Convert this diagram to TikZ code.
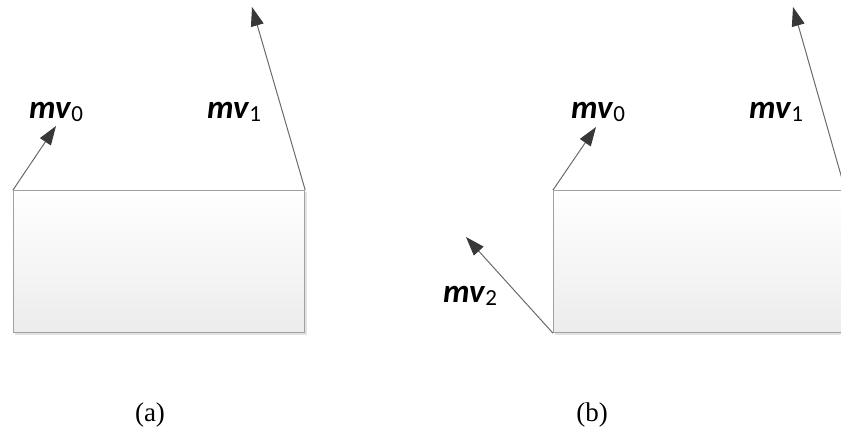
\documentclass[tikz,border=0pt]{standalone}
\usepackage{fontspec}
\setmainfont{Liberation Serif}
\newfontfamily\lblfont{Carlito}
\usetikzlibrary{arrows.meta}
\definecolor{boxline}{HTML}{A0A0A0}
\definecolor{boxbot}{HTML}{ECECEC}
\definecolor{arrline}{HTML}{6A6A6A}
\definecolor{arrhead}{HTML}{383838}
\definecolor{shadowc}{HTML}{E2E2E2}
\tikzset{
  blockbox/.style={draw=boxline, line width=1.2pt, top color=white, bottom color=boxbot,
                   minimum width=291pt, minimum height=142pt, inner sep=0pt, anchor=north west},
  momarrow/.style={draw=arrline, line width=1pt,
                   -{Triangle[length=19pt,width=13pt,color=arrhead]}},
  momlabel/.style={font=\lblfont\fontsize{33}{38}\selectfont, inner sep=0pt},
  caption/.style={font=\fontsize{27}{30}\selectfont, inner sep=0pt}
}
\newcommand{\mvlab}[1]{\textbf{\textit{mv}}\raisebox{-0.2ex}{\fontsize{23}{26}\selectfont #1}}
\begin{document}
\begin{tikzpicture}[x=1pt,y=-1pt]
\useasboundingbox (0,0) rectangle (841,431);
\clip (0,0) rectangle (841,431);
% shadows
\fill[shadowc] (15,192) rectangle (307,335);
\fill[shadowc] (555,192) rectangle (847,335);
% boxes
\node[blockbox] (A) at (13,190) {};
\node[blockbox] (B) at (553,190) {};
% tips
\coordinate (a0) at (56,126);
\coordinate (a1) at (252,7);
\coordinate (b0) at (596,127);
\coordinate (b1) at (793,7);
\coordinate (b2) at (466,237);
% arrows
\draw[momarrow] (A.north west) -- (a0);
\draw[momarrow] (A.north east) -- (a1);
\draw[momarrow] (B.north west) -- (b0);
\draw[momarrow] (B.north east) -- (b1);
\draw[momarrow] (B.south west) -- (b2);
% labels
\node[momlabel] (la0) at (56,112) {\mvlab{0}};
\node[momlabel] (la1) at (234,112) {\mvlab{1}};
\node[momlabel] (lb0) at (598,112) {\mvlab{0}};
\node[momlabel] (lb1) at (776,112) {\mvlab{1}};
\node[momlabel] (lb2) at (470,296) {\mvlab{2}};
% captions
\node[caption] (ca) at (150,415) {(a)};
\node[caption] (cb) at (592,415) {(b)};
\end{tikzpicture}
\end{document}
